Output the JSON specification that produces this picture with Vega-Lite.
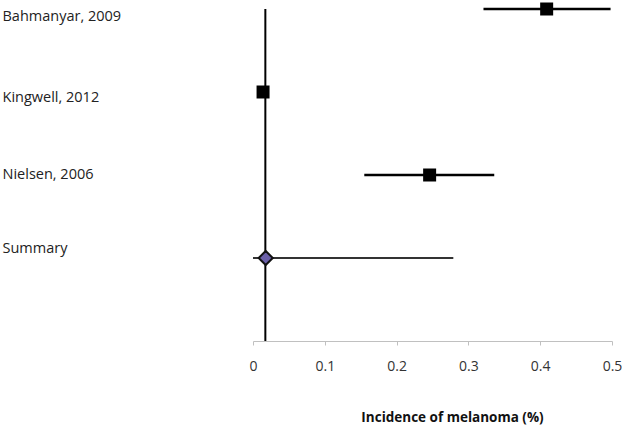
{
  "$schema": "https://vega.github.io/schema/vega-lite/v6.json",
  "width": 359,
  "height": 332,
  "padding": {"left": 2, "top": 2, "right": 0, "bottom": 2},
  "background": "white",
  "config": {"view": {"stroke": null}, "font": "Open Sans"},
  "datasets": {
    "studies": [
      {"study": "Bahmanyar, 2009", "est": 0.409, "lo": 0.321, "hi": 0.498, "kind": "study"},
      {"study": "Kingwell, 2012", "est": 0.014, "lo": 0.012, "hi": 0.016, "kind": "study"},
      {"study": "Nielsen, 2006", "est": 0.246, "lo": 0.155, "hi": 0.336, "kind": "study"},
      {"study": "Summary", "est": 0.0177, "lo": 0.0, "hi": 0.279, "kind": "summary"}
    ],
    "ref": [{"value": 0.0172}]
  },
  "layer": [
    {
      "data": {"name": "ref"},
      "mark": {"type": "rule", "color": "#000000", "strokeWidth": 2},
      "encoding": {"x": {"field": "value", "type": "quantitative"}}
    },
    {
      "data": {"name": "studies"},
      "transform": [{"filter": "datum.kind == 'study'"}],
      "mark": {"type": "rule", "color": "#000000", "strokeWidth": 2.5},
      "encoding": {
        "y": {"field": "study", "type": "nominal"},
        "x": {"field": "lo", "type": "quantitative"},
        "x2": {"field": "hi"}
      }
    },
    {
      "data": {"name": "studies"},
      "transform": [{"filter": "datum.kind == 'summary'"}],
      "mark": {"type": "rule", "color": "#333333", "strokeWidth": 1.8},
      "encoding": {
        "y": {"field": "study", "type": "nominal"},
        "x": {"field": "lo", "type": "quantitative"},
        "x2": {"field": "hi"}
      }
    },
    {
      "data": {"name": "studies"},
      "transform": [{"filter": "datum.kind == 'study'"}],
      "mark": {"type": "point", "shape": "square", "filled": true, "color": "#000000", "size": 169, "opacity": 1},
      "encoding": {
        "y": {"field": "study", "type": "nominal"},
        "x": {"field": "est", "type": "quantitative"}
      }
    },
    {
      "data": {"name": "studies"},
      "transform": [{"filter": "datum.kind == 'summary'"}],
      "mark": {"type": "point", "shape": "diamond", "filled": true, "fill": "#6a5fa8", "stroke": "#111111", "strokeWidth": 2, "size": 200, "opacity": 1},
      "encoding": {
        "y": {"field": "study", "type": "nominal"},
        "x": {"field": "est", "type": "quantitative"}
      }
    }
  ],
  "encoding": {
    "x": {
      "type": "quantitative",
      "scale": {"domain": [0, 0.5], "nice": false, "zero": false},
      "axis": {
        "values": [0, 0.1, 0.2, 0.3, 0.4, 0.5],
        "format": "~g",
        "grid": false,
        "labelFlush": false,
        "domainColor": "#c0c0c0",
        "tickColor": "#c0c0c0",
        "tickSize": 4,
        "labelFontSize": 14,
        "labelColor": "#333333",
        "labelPadding": 14,
        "title": "Incidence of melanoma (%)",
        "titleFontSize": 13.5,
        "titleFontWeight": "bold",
        "titleColor": "#111111",
        "titlePadding": 37,
        "titleX": 199
      }
    },
    "y": {
      "type": "nominal",
      "scale": {"type": "point", "domain": ["Bahmanyar, 2009", "Kingwell, 2012", "Nielsen, 2006", "Summary", " "], "padding": 0},
      "axis": {
        "title": null,
        "domain": false,
        "ticks": false,
        "tickSize": 0,
        "grid": false,
        "labelAlign": "left",
        "labelPadding": 251,
        "labelFontSize": 14.5,
        "labelColor": "#222222",
        "labelOffset": {"expr": "datum.value == 'Bahmanyar, 2009' ? 7 : datum.value == 'Kingwell, 2012' ? 5 : datum.value == 'Nielsen, 2006' ? -1 : -10"}
      }
    }
  }
}
